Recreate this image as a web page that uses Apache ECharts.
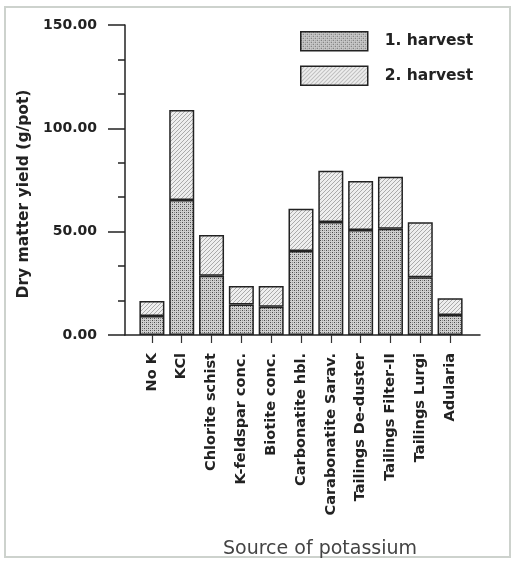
<!DOCTYPE html>
<html>
<head>
<meta charset="UTF-8">
<title>Dry matter yield</title>
<script src="https://cdn.jsdelivr.net/npm/echarts@6/dist/echarts.min.js"></script>
<style>
body{margin:0;background:#fff;}
#frame{position:absolute;left:4px;top:6px;width:503px;height:548px;border:2px solid #cdd2cd;}
#chart{position:absolute;left:0;top:0;width:515px;height:563px;}
</style>
</head>
<body>
<div id="frame"></div>
<div id="chart"></div>
<script type="text/javascript">
// sources of potassium
var sources=['No K','KCl','Chlorite schist','K-feldspar conc.','Biotite conc.','Carbonatite hbl.',
	'Carabonatite Sarav.','Tailings De-duster','Tailings Filter-II','Tailings Lurgi','Adularia'];
// dry matter yield (g/pot)
var harvest1=[9.2,65.3,28.7,14.8,13.7,40.6,54.7,50.8,51.4,27.9,9.7];
var harvest2=[7.3,43.6,19.7,8.9,10.0,20.5,24.8,23.7,25.2,26.6,8.1];
var yTicks=[0,50,100,150];

function makePattern(kind){
	var c=document.createElement('canvas');
	c.width=4;c.height=4;
	var g=c.getContext('2d');
	if(kind==1){
		g.fillStyle='#cfcfcf';g.fillRect(0,0,4,4);
		g.fillStyle='#4a4a4a';
		g.fillRect(0,0,1,1);g.fillRect(2,2,1,1);
		g.fillStyle='#8f8f8f';
		g.fillRect(2,0,1,1);g.fillRect(0,2,1,1);
	}else{
		g.fillStyle='#eeeeee';g.fillRect(0,0,4,4);
		g.fillStyle='#aaa';
		g.fillRect(3,0,1,1);g.fillRect(2,1,1,1);g.fillRect(1,2,1,1);g.fillRect(0,3,1,1);
	}
	return {image:c,repeat:'repeat'};
}

var mychart=echarts.init(document.getElementById('chart'));
var font='DejaVu Sans';
var option={
	backgroundColor:'transparent',
	animation:false,
	title:{
		text:'Source of potassium',
		left:218,top:535,
		textStyle:{fontFamily:font,fontSize:19,fontWeight:'normal',color:'#444'}
	},
	legend:{
		orient:'vertical',
		left:300,top:31,padding:0,
		itemWidth:67,itemHeight:19,itemGap:14,
		icon:'rect',
		itemStyle:{borderColor:'#222',borderWidth:1.5},
		textStyle:{fontFamily:font,fontSize:15.5,fontWeight:'bold',color:'#222',padding:[0,0,0,12]},
		data:['1. harvest','2. harvest']
	},
	grid:[
		{left:125,right:35,top:25,bottom:228},
		{left:137,right:50,top:25,bottom:228}
	],
	xAxis:[
		{type:'value',gridIndex:0,min:0,max:1,
			axisLine:{show:true,lineStyle:{color:'#222',width:1.5}},
			axisTick:{show:false},axisLabel:{show:false},splitLine:{show:false}},
		{type:'category',gridIndex:1,data:sources,
			axisLine:{show:false},
			axisTick:{show:true,alignWithLabel:true,length:8,lineStyle:{color:'#333',width:1.2}},
			axisLabel:{rotate:90,margin:18,interval:0,fontFamily:font,fontSize:14.5,fontWeight:'bold',color:'#222'}}
	],
	yAxis:[
		{type:'value',gridIndex:0,min:yTicks[0],max:yTicks[yTicks.length-1],interval:50,
			name:'Dry matter yield (g/pot)',nameLocation:'middle',nameGap:92,
			nameTextStyle:{fontFamily:font,fontSize:15.5,fontWeight:'bold',color:'#222',padding:[0,28,0,0]},
			axisLine:{show:true,lineStyle:{color:'#222',width:1.5}},
			axisTick:{show:true,length:17,lineStyle:{color:'#222',width:1.5}},
			minorTick:{show:true,splitNumber:3,length:7,lineStyle:{color:'#222',width:1.5}},
			axisLabel:{margin:28,fontFamily:font,fontSize:14,fontWeight:'bold',color:'#222',
				formatter:function(v){return v.toFixed(2);}},
			splitLine:{show:false}},
		{type:'value',gridIndex:1,min:yTicks[0],max:yTicks[yTicks.length-1],show:false,splitLine:{show:false}}
	],
	series:[
		{name:'1. harvest',type:'bar',stack:'k',xAxisIndex:1,yAxisIndex:1,barWidth:25,
			itemStyle:{color:makePattern(1),borderColor:'#222',borderWidth:1.5},
			data:harvest1},
		{name:'2. harvest',type:'bar',stack:'k',xAxisIndex:1,yAxisIndex:1,barWidth:25,
			itemStyle:{color:makePattern(2),borderColor:'#222',borderWidth:1.5},
			data:harvest2}
	]
};
mychart.setOption(option);
</script>
</body>
</html>
